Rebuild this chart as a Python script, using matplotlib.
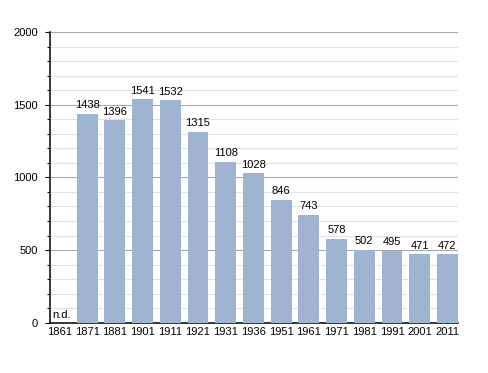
import matplotlib.pyplot as plt
from matplotlib.ticker import MultipleLocator

years = ["1861", "1871", "1881", "1901", "1911", "1921", "1931", "1936",
         "1951", "1961", "1971", "1981", "1991", "2001", "2011"]
# 1861: no data (n.d.)
values = [None, 1438, 1396, 1541, 1532, 1315, 1108, 1028,
          846, 743, 578, 502, 495, 471, 472]

plt.rcParams['font.family'] = ['Liberation Sans', 'DejaVu Sans']

fig = plt.figure(figsize=(4.88, 3.73), dpi=100)
ax = fig.add_axes([0.1025, 0.1349, 0.836, 0.779])

xs = [i for i, v in enumerate(values) if v is not None]
hs = [v for v in values if v is not None]
ax.bar(xs, hs, width=0.75, color='#9eb4d0', zorder=3)

for x, v in zip(xs, hs):
    ax.annotate(str(v), (x, v), xytext=(0, 3.8), textcoords='offset points',
                ha='center', va='baseline', fontsize=8)
ax.annotate("n.d.", (-0.34, 0), xytext=(1.5, 3.3), textcoords='offset points',
            ha='left', va='baseline', fontsize=8)

ax.set_xlim(-0.34, 14.38)
ax.set_ylim(0, 2000)
ax.set_xticks(range(len(years)))
ax.set_xticklabels(years)
ax.yaxis.set_major_locator(MultipleLocator(500))
ax.yaxis.set_minor_locator(MultipleLocator(100))
ax.grid(axis='y', which='major', color='#aaaaaa', linewidth=0.8, zorder=0)
ax.grid(axis='y', which='minor', color='#e2e2e2', linewidth=0.8, zorder=0)

for s in ['top', 'right']:
    ax.spines[s].set_visible(False)
ax.spines['left'].set_linewidth(1.1)
ax.spines['bottom'].set_linewidth(1.1)
ax.tick_params(axis='x', length=0, labelsize=8, pad=3)
ax.tick_params(axis='y', which='major', length=3.6, width=0.8, labelsize=8, pad=5)
ax.tick_params(axis='y', which='minor', length=2, width=0.8)

fig.savefig("out.png", dpi=100)
